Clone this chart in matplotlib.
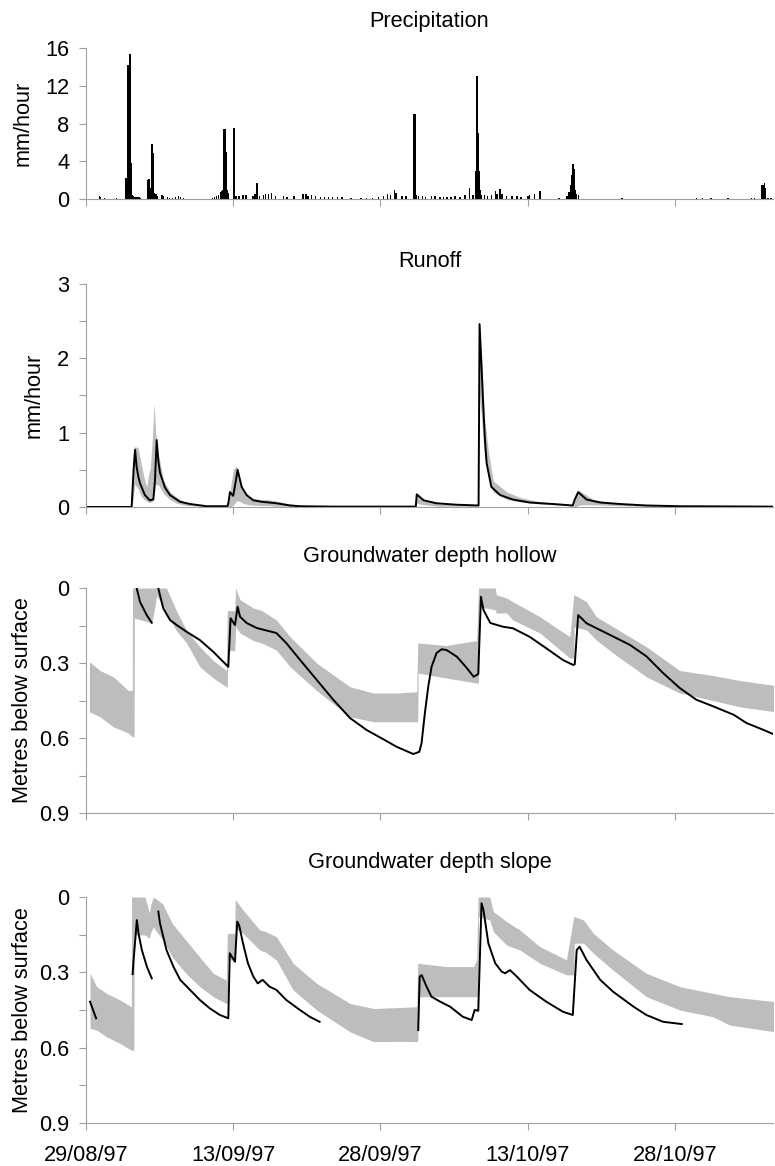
import matplotlib
matplotlib.use('Agg')
import matplotlib.pyplot as plt
import numpy as np

matplotlib.rcParams['font.family'] = ['Liberation Sans', 'DejaVu Sans']
matplotlib.rcParams['font.size'] = 15.7
matplotlib.rcParams['axes.linewidth'] = 0.8

# days after 29/08/97 00:00
tick_days = [0, 15, 30, 45, 60]
tick_names = ['29/08/97', '13/09/97', '28/09/97', '13/10/97', '28/10/97']

# hourly precipitation (mm/hour), only the non-zero hours that can be seen
precip_day = [1.35, 1.5, 1.87, 3.1, 4.04, 4.15, 4.28, 4.38, 4.48, 4.56, 4.64, 4.72, 4.85, 5.0,
              5.2, 5.4, 5.55, 6.25, 6.35, 6.45, 6.55, 6.68, 6.76, 6.88, 6.97, 7.05, 7.15, 7.3,
              7.75, 7.9, 8.3, 8.5, 8.8, 9.1, 9.4, 9.65, 9.95, 12.9, 13.1, 13.3, 13.5, 13.7,
              13.85, 13.95, 14.08, 14.18, 14.28, 14.4, 14.5, 15.05, 15.15, 15.3, 15.6, 16.0,
              16.3, 17.0, 17.2, 17.4, 17.5, 17.7, 18.1, 18.3, 18.6, 18.9, 19.3, 20.1, 20.5,
              21.2, 22.1, 22.4, 22.6, 23.0, 23.4, 23.9, 24.3, 24.7, 25.1, 25.6, 26.1, 27.0,
              28.0, 28.6, 29.2, 29.8, 30.3, 30.7, 31.0, 31.45, 31.6, 32.2, 32.6, 33.4, 33.5,
              33.65, 33.9, 34.3, 34.6, 35.2, 35.55, 36.06, 36.4, 36.8, 37.2, 37.6, 38.1, 38.6,
              39.1, 39.45, 39.75, 39.85, 39.95, 40.05, 40.15, 40.3, 40.6, 40.9, 41.3, 41.7,
              41.9, 42.2, 42.4, 42.85, 43.4, 43.9, 44.3, 45.05, 45.2, 45.7, 46.25, 48.2, 49.0,
              49.2, 49.35, 49.48, 49.6, 49.7, 49.82, 49.95, 50.2, 54.6, 62.2, 62.8, 63.7, 65.4,
              67.8, 68.1, 68.85, 68.98, 69.12, 69.25, 69.5, 69.8]
precip_mm = [0.3, 0.25, 0.1, 0.1, 2.2, 2.2, 14.2, 14.2, 15.4, 15.4, 3.8, 0.4, 0.3, 0.2,
             0.2, 0.2, 0.15, 2.0, 2.1, 2.1, 1.2, 5.8, 5.8, 4.9, 0.6, 0.4, 0.5, 0.3,
             0.4, 0.3, 0.2, 0.15, 0.15, 0.2, 0.3, 0.25, 0.15, 0.1, 0.2, 0.3, 0.4, 0.7,
             0.9, 1.0, 7.4, 7.4, 5.0, 1.0, 0.6, 7.5, 7.5, 0.3, 0.3, 0.4,
             0.4, 0.3, 0.5, 1.7, 0.6, 0.3, 0.4, 0.5, 0.5, 0.6, 0.3, 0.3, 0.2,
             0.3, 0.5, 0.5, 0.3, 0.4, 0.3, 0.2, 0.2, 0.25, 0.2, 0.2, 0.2, 0.1,
             0.1, 0.15, 0.1, 0.2, 0.3, 0.5, 0.4, 1.0, 0.6, 0.3, 0.3, 9.0, 9.0,
             0.4, 0.3, 0.3, 0.2, 0.3, 0.3, 0.2, 0.2, 0.2, 0.2, 0.3, 0.2, 0.4,
             1.2, 0.4, 3.0, 13.0, 7.0, 3.0, 1.0, 0.4, 0.4, 0.3, 0.4, 0.9,
             0.5, 1.1, 0.5, 0.3, 0.3, 0.3, 0.2, 0.3, 0.4, 0.5, 0.8, 0.1, 0.3,
             0.7, 1.5, 2.5, 3.7, 3.2, 1.0, 0.5, 0.4, 0.1, 0.1, 0.15, 0.1, 0.15,
             0.1, 0.1, 1.5, 1.5, 1.65, 1.2, 0.1, 0.1]

# runoff: simulated range (grey) and observed (black)
runoff_band_day = [0, 4.7, 4.8, 4.95, 5.3, 5.6, 5.9, 6.18, 6.4, 6.55, 6.75, 6.93, 7.1, 7.37,
                   7.9, 8.56, 9.24, 10.26, 11.6, 14.4, 14.6, 15.0, 15.35, 15.6, 16.0, 16.6,
                   17.7, 18.5, 19.4, 20.4, 22.0, 33.6, 33.7, 34.5, 36.0, 40.0, 40.1, 40.3,
                   40.6, 41.0, 41.5, 42.9, 44.2, 46.2, 48.9, 49.7, 49.9, 50.15, 50.5, 51.7,
                   53.7, 57.0, 70.0]
runoff_band_hi = [0, 0, 0.7, 0.81, 0.8, 0.6, 0.4, 0.27, 0.45, 0.52, 0.9, 1.39, 1.0, 0.72,
                  0.36, 0.2, 0.13, 0.05, 0.02, 0.01, 0.15, 0.5, 0.55, 0.4, 0.24, 0.13,
                  0.1, 0.1, 0.08, 0.05, 0.02, 0.01, 0.15, 0.1, 0.04, 0.02, 2.3, 2.0,
                  1.2, 0.75, 0.35, 0.2, 0.13, 0.07, 0.03, 0.02, 0.15, 0.23, 0.2, 0.1,
                  0.05, 0.02, 0.005]
runoff_band_lo = [0, 0, 0.1, 0.3, 0.25, 0.15, 0.1, 0.08, 0.06, 0.06, 0.08, 0.15, 0.3, 0.3,
                  0.18, 0.1, 0.05, 0.02, 0.01, 0, 0, 0.02, 0.08, 0.08, 0.05, 0.03,
                  0.02, 0.02, 0.01, 0.01, 0, 0, 0.05, 0.03, 0.01, 0.01, 1.5, 1.2,
                  0.7, 0.4, 0.2, 0.1, 0.07, 0.04, 0.02, 0.01, 0, 0.02, 0.03, 0.03,
                  0.02, 0.01, 0]
runoff_obs_day = [0, 4.65, 4.85, 5.0, 5.16, 5.33, 5.5, 6.0, 6.5, 6.86, 7.03, 7.2, 7.37, 7.54,
                  8.05, 8.56, 9.58, 10.6, 12.3, 14.4, 14.5, 14.67, 15.0, 15.2, 15.45, 15.86,
                  16.37, 17.05, 17.9, 19.4, 20.8, 21.8, 25.0, 30.0, 33.6, 33.7, 34.4, 35.7,
                  37.8, 40.0, 40.1, 40.3, 40.48, 40.65, 40.82, 41.3, 42.2, 43.5, 45.2, 47.6,
                  49.6, 49.8, 50.15, 51.0, 52.4, 54.4, 57.1, 60.5, 70.0]
runoff_obs = [0, 0, 0.5, 0.77, 0.54, 0.41, 0.32, 0.16, 0.09, 0.1, 0.36, 0.9, 0.62, 0.46,
              0.26, 0.16, 0.07, 0.04, 0.01, 0.01, 0.05, 0.2, 0.15, 0.3, 0.5, 0.27,
              0.16, 0.09, 0.07, 0.05, 0.02, 0.01, 0.005, 0.005, 0.005, 0.17, 0.09, 0.05,
              0.03, 0.02, 2.46, 1.9, 1.35, 0.9, 0.59, 0.27, 0.16, 0.1, 0.06, 0.04,
              0.02, 0.1, 0.2, 0.1, 0.06, 0.04, 0.02, 0.01, 0.005]

# groundwater depth hollow (m below surface)
hollow_band_day = [0.34, 1.43, 2.78, 4.31, 4.72, 4.74, 4.9, 4.93, 6.7, 7.0, 7.2, 8.2, 9.2,
                   10.25, 11.6, 12.97, 14.3, 14.4, 14.45, 15.15, 15.25, 15.7, 17.05, 17.9,
                   19.4, 20.8, 23.5, 26.9, 29.3, 31.6, 33.7, 33.8, 33.85, 36.7, 39.8, 40.0,
                   40.05, 41.7, 41.8, 42.85, 43.5, 46.25, 49.3, 49.7, 49.75, 51.0, 52.0, 53.7,
                   57.1, 60.5, 63.9, 66.6, 70.2]
hollow_band_top = [0.295, 0.33, 0.355, 0.41, 0.41, 0, 0, 0, 0, 0, 0, 0, 0.09,
                   0.17, 0.235, 0.29, 0.33, 0.09, 0.09, 0.09, 0, 0.047, 0.08, 0.09,
                   0.128, 0.195, 0.3, 0.395, 0.42, 0.42, 0.415, 0.22, 0.22, 0.23, 0.21, 0,
                   0, 0, 0.027, 0.04, 0.055, 0.115, 0.195, 0.027, 0.027, 0.055, 0.115, 0.155,
                   0.235, 0.33, 0.35, 0.37, 0.39]
hollow_band_bot = [0.495, 0.515, 0.555, 0.58, 0.595, 0.595, 0.595, 0.12, 0.14, 0.08, 0.03,
                   0.1, 0.17, 0.22, 0.315, 0.36, 0.395, 0.395, 0.25, 0.25, 0.155, 0.18,
                   0.21, 0.22, 0.248, 0.315, 0.41, 0.515, 0.535, 0.535, 0.535, 0.535, 0.34,
                   0.36, 0.38, 0.38, 0.075, 0.087, 0.1, 0.1, 0.128, 0.18, 0.28, 0.28, 0.155,
                   0.168, 0.208, 0.26, 0.355, 0.42, 0.45, 0.475, 0.495]
hollow_obs_day = [5.16, 5.5, 6.18, 6.7, np.nan, 7.36, 7.87, 8.56, 9.24, 10.25, 11.6, 12.97,
                  13.98, 14.5, 14.73, 15.18, 15.45, 15.7, 16.37, 17.4, 18.4, 19.4, 20.4, 21.8,
                  23.5, 25.2, 26.9, 28.6, 30.3, 31.65, 33.35, 33.96, 34.19, 34.53, 34.87,
                  35.21, 35.72, 36.23, 36.74, 37.8, 38.8, 39.5, 39.97, 40.24, 40.5, 41.2,
                  42.5, 43.5, 45.2, 46.9, 48.6, 49.65, 49.8, 50.15, 51.0, 53.0, 55.4, 57.1,
                  58.8, 60.5, 62.2, 63.9, 66.0, 67.3, 69.0, 70.2]
hollow_obs = [0, 0.055, 0.108, 0.139, np.nan, 0, 0.081, 0.128, 0.148, 0.175, 0.208, 0.255,
              0.295, 0.315, 0.121, 0.148, 0.075, 0.115, 0.14, 0.16, 0.17, 0.18, 0.22, 0.287,
              0.367, 0.447, 0.52, 0.568, 0.605, 0.635, 0.664, 0.655, 0.621, 0.5, 0.395,
              0.315, 0.26, 0.245, 0.248, 0.275, 0.32, 0.355, 0.344, 0.035, 0.088, 0.14,
              0.155, 0.161, 0.195, 0.241, 0.288, 0.308, 0.305, 0.108, 0.141, 0.18, 0.227,
              0.273, 0.34, 0.4, 0.447, 0.473, 0.507, 0.54, 0.567, 0.587]

# groundwater depth slope (m below surface)
slope_band_day = [0.41, 1.09, 2.1, 3.46, 4.62, 4.64, 4.88, 4.91, 6.0, 6.3, 6.45, 6.6, 6.86,
                  7.8, 8.8, 10.2, 11.6, 12.97, 14.3, 14.4, 14.45, 15.15, 15.2, 15.25, 16.0,
                  17.7, 18.3, 19.4, 21.1, 23.5, 26.9, 29.3, 32.0, 33.7, 33.8, 33.85, 36.7,
                  39.5, 39.8, 39.95, 40.0, 41.15, 41.5, 42.85, 44.2, 46.25, 48.95, 49.7,
                  49.75, 50.7, 51.7, 53.7, 57.1, 60.5, 63.9, 65.6, 70.2]
slope_band_top = [0.304, 0.357, 0.384, 0.41, 0.437, 0, 0, 0, 0, 0.04, 0.065, 0.03, 0,
                  0.027, 0.106, 0.173, 0.24, 0.304, 0.331, 0.145, 0.145, 0.145, 0.012,
                  0.012, 0.052, 0.131, 0.138, 0.158, 0.264, 0.344, 0.424, 0.444, 0.44,
                  0.437, 0.264, 0.264, 0.277, 0.277, 0.25, 0, 0, 0, 0.058, 0.098, 0.131,
                  0.198, 0.25, 0.078, 0.078, 0.092, 0.145, 0.211, 0.304, 0.357, 0.384,
                  0.397, 0.417]
slope_band_bot = [0.523, 0.53, 0.557, 0.583, 0.61, 0.61, 0.61, 0.151, 0.151, 0.16, 0.165,
                  0.14, 0.12, 0.17, 0.239, 0.305, 0.357, 0.397, 0.424, 0.424, 0.251,
                  0.251, 0.251, 0.125, 0.145, 0.211, 0.22, 0.251, 0.37, 0.45, 0.537,
                  0.576, 0.575, 0.576, 0.576, 0.397, 0.397, 0.397, 0.397, 0.397, 0.078,
                  0.092, 0.138, 0.191, 0.211, 0.264, 0.31, 0.31, 0.184, 0.184, 0.224,
                  0.291, 0.397, 0.45, 0.477, 0.51, 0.537]
slope_obs_day = [0.41, 1.03, np.nan, 4.75, 4.85, 5.18, 5.35, 5.69, 6.2, 6.7, np.nan, 7.37,
                 7.54, 8.2, 8.9, 9.6, 10.6, 11.6, 12.6, 13.65, 14.5, 14.65, 15.18, 15.41,
                 15.6, 16.0, 16.5, 17.05, 17.5, 18.0, 18.7, 19.4, 20.4, 21.8, 22.8, 23.8,
                 np.nan, 33.85, 34.0, 34.2, 34.7, 35.2, 36.1, 37.1, 38.4, 39.3, 39.6, 39.97,
                 40.3, 40.5, 41.0, 41.7, 42.35, 42.7, 43.2, 43.9, 45.2, 46.9, 48.6, 49.6,
                 50.0, 50.3, 51.0, 52.4, 53.7, 55.8, 57.1, 58.8, 60.7]
slope_obs = [0.417, 0.483, np.nan, 0.307, 0.251, 0.092, 0.145, 0.211, 0.277, 0.324, np.nan,
             0.058, 0.105, 0.211, 0.277, 0.33, 0.37, 0.41, 0.443, 0.47, 0.483, 0.224, 0.258,
             0.098, 0.112, 0.185, 0.264, 0.317, 0.344, 0.33, 0.357, 0.37, 0.41, 0.45, 0.477,
             0.497, np.nan, 0.53, 0.317, 0.311, 0.357, 0.397, 0.417, 0.437, 0.477, 0.49,
             0.45, 0.453, 0.025, 0.052, 0.185, 0.264, 0.297, 0.304, 0.291, 0.317, 0.37,
             0.417, 0.457, 0.47, 0.211, 0.198, 0.251, 0.33, 0.377, 0.437, 0.47, 0.497, 0.506]

band_col = '#bdbdbd'
axis_col = '#a0a0a0'

fig = plt.figure(figsize=(7.75, 11.66), dpi=100)
left = 86 / 775
width = 687 / 775


def setup(ax, title, title_y, ylabel, label_x, yticks, ylabels, ylim, xlabels):
    ax.set_xlim(0, 70)
    ax.set_ylim(*ylim)
    for s in ['top', 'right']:
        ax.spines[s].set_visible(False)
    for s in ['left', 'bottom']:
        ax.spines[s].set_color(axis_col)
    ax.set_xticks(tick_days)
    if xlabels:
        ax.set_xticklabels(tick_names)
    else:
        ax.set_xticklabels([])
    ax.set_yticks(yticks)
    ax.set_yticklabels(ylabels)
    ax.tick_params(axis='both', direction='out', length=5, width=0.8, color=axis_col)
    ax.tick_params(axis='y', pad=7)
    ax.tick_params(axis='x', pad=11)
    ax.set_ylabel(ylabel)
    ax.yaxis.set_label_coords(label_x, 0.5)
    fig.text(left + width / 2, title_y, title, ha='center', va='baseline')


ax1 = fig.add_axes([left, 0.8293, width, 0.1295])
ax1.bar(precip_day, precip_mm, width=0.15, color='black', linewidth=0)
setup(ax1, 'Precipitation', 1 - 27 / 1166, 'mm/hour', -0.077,
      [0, 4, 8, 12, 16], ['0', '4', '8', '12', '16'], (0, 16), False)

ax2 = fig.add_axes([left, 0.5652, width, 0.1913])
ax2.fill_between(runoff_band_day, runoff_band_lo, runoff_band_hi, color=band_col, linewidth=0)
ax2.plot(runoff_obs_day, runoff_obs, color='black', linewidth=1.4)
setup(ax2, 'Runoff', 1 - 267 / 1166, 'mm/hour', -0.06,
      [0, 0.5, 1, 1.5, 2, 2.5, 3], ['0', '', '1', '', '2', '', '3'], (0, 3), False)

ax3 = fig.add_axes([left, 0.3027, width, 0.193])
ax3.fill_between(hollow_band_day, hollow_band_top, hollow_band_bot, color=band_col, linewidth=0)
ax3.plot(hollow_obs_day, hollow_obs, color='black', linewidth=1.4)
setup(ax3, 'Groundwater depth hollow', 1 - 562 / 1166, 'Metres below surface', -0.077,
      [0, 0.15, 0.3, 0.45, 0.6, 0.75, 0.9], ['0', '', '0.3', '', '0.6', '', '0.9'],
      (0.9, 0), False)

ax4 = fig.add_axes([left, 0.0369, width, 0.1938])
ax4.fill_between(slope_band_day, slope_band_top, slope_band_bot, color=band_col, linewidth=0)
ax4.plot(slope_obs_day, slope_obs, color='black', linewidth=1.4)
setup(ax4, 'Groundwater depth slope', 1 - 868 / 1166, 'Metres below surface', -0.077,
      [0, 0.15, 0.3, 0.45, 0.6, 0.75, 0.9], ['0', '', '0.3', '', '0.6', '', '0.9'],
      (0.9, 0), True)

fig.savefig('out.png', dpi=100)
